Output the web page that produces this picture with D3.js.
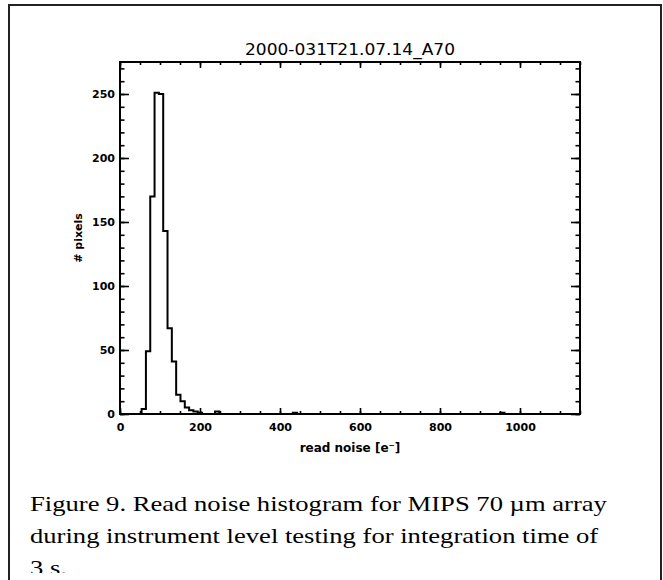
<!DOCTYPE html>
<html>
<head>
<meta charset="utf-8">
<script src="https://cdn.jsdelivr.net/npm/d3@7"></script>
<style>
body{margin:0;background:#fff;}
svg{display:block;}
.axis .domain{display:none;}
.axis .tick line{stroke:#000;stroke-width:1.6;}
.axis .tick text{font-family:"DejaVu Sans",sans-serif;font-weight:bold;font-size:11px;fill:#000;}
</style>
</head>
<body>
<div id="chart"></div>
<script>
var title = '2000-031T21.07.14_A70';
var xLabel = 'read noise [e\u207B]';
var yLabel = '# pixels';
var captionLines = [
    'Figure 9. Read noise histogram for MIPS 70 \u00B5m array',
    'during instrument level testing for integration time of',
    '3 s.'
];

// histogram: lower bin edge [e-] and pixel count, bin width 10.8
var binLow = [54, 64.8, 75.6, 86.4, 97.2, 108, 118.8, 129.6, 140.4, 151.2, 162, 172.8, 183.6, 194.4, 237.6, 432, 950.4];
var counts = [4, 49, 170, 251, 250, 143, 67, 41, 15, 10, 5, 3, 2, 1, 2, 1, 1];
var binWidth = 10.8;

var xDomain = [0, 1150];
var yDomain = [0, 275];
var xMajor = [0, 200, 400, 600, 800, 1000];
var yMajor = [0, 50, 100, 150, 200, 250];

var width = 663, height = 580;
var plot = {left: 120, right: 580, top: 62, bottom: 414};

var svg = d3.select('#chart').append('svg')
    .attr('width', width)
    .attr('height', height);

svg.append('rect')
    .attr('width', width)
    .attr('height', height)
    .attr('fill', '#fff');

// the scanned page is cut just above the last caption baseline
svg.append('clipPath')
    .attr('id', 'page-clip')
    .append('rect')
    .attr('width', width)
    .attr('height', 573);

// outer figure border (open at the bottom)
svg.append('path')
    .attr('d', 'M9,' + height + 'L9,5L661,5L661,' + height)
    .attr('fill', 'none')
    .attr('stroke', '#222')
    .attr('stroke-width', 2);

var scaleX = d3.scaleLinear().domain(xDomain).range([plot.left, plot.right]);
var scaleY = d3.scaleLinear().domain(yDomain).range([plot.bottom, plot.top]);

// step outline of the histogram
var pts = [];
binLow.forEach(function(lo, i){
    var hi = lo + binWidth;
    if(i === 0 || lo > binLow[i - 1] + binWidth + 0.01){
        pts.push([lo, 0]);
    }
    pts.push([lo, counts[i]]);
    pts.push([hi, counts[i]]);
    if(i === binLow.length - 1 || binLow[i + 1] > hi + 0.01){
        pts.push([hi, 0]);
    }
});
var line = d3.line()
    .x(function(d){ return scaleX(d[0]); })
    .y(function(d){ return scaleY(d[1]); });

svg.append('path')
    .datum(pts)
    .attr('d', line)
    .attr('fill', 'none')
    .attr('stroke', '#000')
    .attr('stroke-width', 2)
    .attr('stroke-linejoin', 'miter');

// axes, ticks pointing inward
var g;
g = svg.append('g').attr('class', 'axis').attr('transform', 'translate(0,' + plot.bottom + ')');
g.call(d3.axisBottom(scaleX).tickValues(xMajor).tickSize(-6).tickPadding(9).tickFormat(d3.format('d')));
g = svg.append('g').attr('class', 'axis').attr('transform', 'translate(0,' + plot.bottom + ')');
g.call(d3.axisBottom(scaleX).tickValues(d3.range(0, 1151, 50)).tickSize(-3).tickFormat(''));
g = svg.append('g').attr('class', 'axis').attr('transform', 'translate(0,' + plot.top + ')');
g.call(d3.axisTop(scaleX).tickValues(xMajor).tickSize(-6).tickFormat(''));
g = svg.append('g').attr('class', 'axis').attr('transform', 'translate(0,' + plot.top + ')');
g.call(d3.axisTop(scaleX).tickValues(d3.range(0, 1151, 50)).tickSize(-3).tickFormat(''));

g = svg.append('g').attr('class', 'axis').attr('transform', 'translate(' + plot.left + ',0)');
g.call(d3.axisLeft(scaleY).tickValues(yMajor).tickSize(-9).tickPadding(5).tickFormat(d3.format('d')));
g = svg.append('g').attr('class', 'axis').attr('transform', 'translate(' + plot.left + ',0)');
g.call(d3.axisLeft(scaleY).tickValues(d3.range(0, 276, 10)).tickSize(-4.5).tickFormat(''));
g = svg.append('g').attr('class', 'axis').attr('transform', 'translate(' + plot.right + ',0)');
g.call(d3.axisRight(scaleY).tickValues(yMajor).tickSize(-9).tickFormat(''));
g = svg.append('g').attr('class', 'axis').attr('transform', 'translate(' + plot.right + ',0)');
g.call(d3.axisRight(scaleY).tickValues(d3.range(0, 276, 10)).tickSize(-4.5).tickFormat(''));

// plot frame
svg.append('rect')
    .attr('x', plot.left)
    .attr('y', plot.top)
    .attr('width', plot.right - plot.left)
    .attr('height', plot.bottom - plot.top)
    .attr('fill', 'none')
    .attr('stroke', '#000')
    .attr('stroke-width', 2);

svg.append('text')
    .attr('x', (plot.left + plot.right) / 2)
    .attr('y', 55)
    .attr('text-anchor', 'middle')
    .attr('font-family', '"DejaVu Sans", sans-serif')
    .attr('font-size', 16)
    .attr('textLength', 210)
    .attr('lengthAdjust', 'spacingAndGlyphs')
    .text(title);

svg.append('text')
    .attr('x', (plot.left + plot.right) / 2)
    .attr('y', 452)
    .attr('text-anchor', 'middle')
    .attr('font-family', '"DejaVu Sans", sans-serif')
    .attr('font-weight', 'bold')
    .attr('font-size', 12)
    .text(xLabel);

svg.append('text')
    .attr('transform', 'translate(82,238) rotate(-90)')
    .attr('text-anchor', 'middle')
    .attr('font-family', '"DejaVu Sans", sans-serif')
    .attr('font-weight', 'bold')
    .attr('font-size', 11)
    .text(yLabel);

// caption, the scan is stretched horizontally
var cap = svg.append('g')
    .attr('clip-path', 'url(#page-clip)')
    .append('g')
    .attr('transform', 'translate(30,0) scale(1.21,1)');
cap.selectAll('text')
    .data(captionLines)
    .enter().append('text')
    .attr('x', 0)
    .attr('y', function(d, i){ return 511.5 + i * 31.7; })
    .attr('font-family', '"Liberation Serif", "Times New Roman", serif')
    .attr('font-size', 22)
    .attr('fill', '#000')
    .text(function(d){ return d; });
</script>
</body>
</html>
